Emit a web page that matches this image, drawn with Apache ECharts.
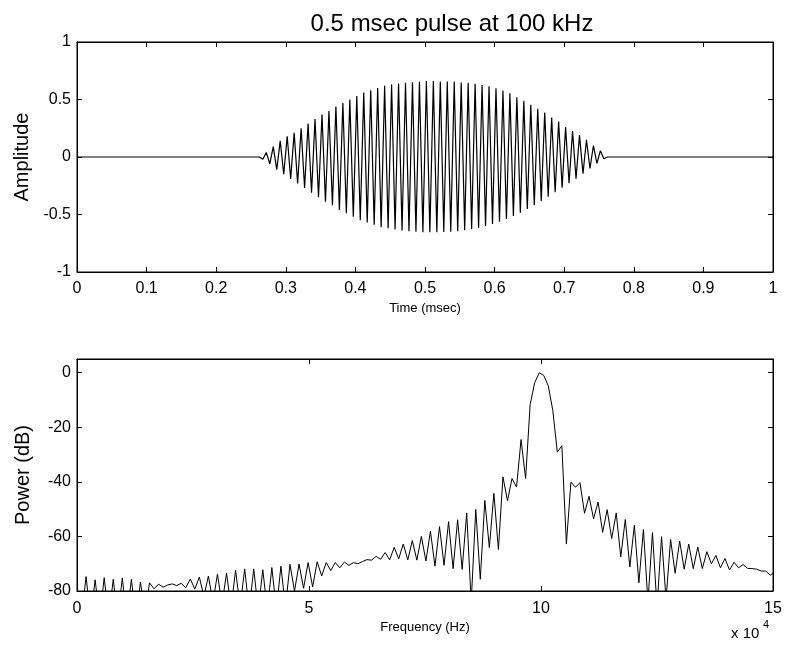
<!DOCTYPE html>
<html><head><meta charset="utf-8">
<script src="https://cdn.jsdelivr.net/npm/echarts/dist/echarts.min.js"></script>
<style>html,body{margin:0;padding:0;background:#fff}#c{width:785px;height:648px}</style>
</head><body><div id="c"></div>
<script>
// ---- top panel: sampled pulse (time in msec) ----
const timeRange = [0, 1];
const pulseStart = 0.262;   // msec, first sample of the burst
const pulseStep = 0.005;    // msec between successive peak / trough samples
const pulseAmp = [
  0,
  -0.02, 0.04, -0.06, 0.09, -0.11, 0.14, -0.15, 0.18, -0.19, 0.21,
  -0.23, 0.25, -0.27, 0.29, -0.31, 0.33, -0.35, 0.37, -0.39, 0.40,
  -0.42, 0.44, -0.46, 0.47, -0.49, 0.50, -0.52, 0.53, -0.55, 0.56,
  -0.57, 0.58, -0.59, 0.60, -0.61, 0.62, -0.62, 0.63, -0.63, 0.64,
  -0.64, 0.645, -0.645, 0.65, -0.65, 0.655, -0.655, 0.66, -0.655, 0.66,
  -0.655, 0.656, -0.653, 0.656, -0.65, 0.656, -0.645, 0.647, -0.637, 0.645,
  -0.627, 0.636, -0.615, 0.627, -0.60, 0.616, -0.583, 0.598, -0.563, 0.578,
  -0.54, 0.555, -0.513, 0.52, -0.484, 0.488, -0.452, 0.454, -0.418, 0.419,
  -0.382, 0.387, -0.345, 0.344, -0.307, 0.309, -0.268, 0.26, -0.228, 0.225,
  -0.188, 0.19, -0.145, 0.15, -0.10, 0.10, -0.055, 0.055, -0.015, 0
];
const ampTicks = [-1, -0.5, 0, 0.5, 1];

// ---- bottom panel: power spectrum (frequency in units of 10^4 Hz) ----
const specStep = 0.09765625;  // bin spacing, x10^4 Hz
const specDb = [
  -82, -90, -74.7, -90, -75.9, -90, -75.1, -90, -75.7, -90,
  -75.2, -90, -75.7, -90, -76.7, -88, -77.0, -79.2, -77.5, -78.6,
  -77.8, -77.4, -78.0, -77.2, -78.8, -75.6, -79.3, -74.9, -82, -74.5,
  -84, -73.8, -85, -73.4, -86, -72.4, -86, -71.9, -87, -71.9,
  -87, -72.2, -87, -71.4, -87, -70.9, -86, -70.2, -80, -70.1,
  -79, -69.6, -78.5, -69.3, -74.5, -69.6, -72.5, -69.6, -71.5, -69.4,
  -70.6, -69.6, -70.0, -69.2, -68.5, -68.7, -67.3, -68.4, -65.9, -68.6,
  -64.0, -68.2, -62.8, -68.6, -61.5, -68.7, -60.0, -69.0, -58.1, -70.9,
  -56.4, -70.6, -54.6, -71.8, -53.9, -72.1, -51.4, -84, -50.1, -75.7,
  -46.8, -64.1, -44.2, -64.8, -38.2, -46.9, -38.8, -41.9, -24.5, -38.8,
  -11.7, -3.7, -0.05, -1.0, -4.8, -13.8, -29.1, -26.8, -62.8, -40.1,
  -42.0, -40.3, -51.5, -45.3, -53.5, -47.4, -58.5, -50.2, -60.8, -51.4,
  -67.5, -53.8, -71.2, -55.9, -77, -57.5, -84, -58.6, -86, -60.1,
  -83, -61.1, -73.5, -61.7, -72, -62.8, -71.8, -63.9, -71.8, -65.6,
  -70, -67, -71.5, -68.1, -72.3, -69.5, -71.5, -70.3, -71.7, -71.8,
  -72, -72.7, -72.7, -74.2, -73
];
const freqRange = [0, 15];
const dbRange = [-80, 5];

// build series points from the read values
const pulseData = [[timeRange[0], 0]];
pulseAmp.forEach((v, n) => pulseData.push([+(pulseStart + n * pulseStep).toFixed(4), v]));
pulseData.push([timeRange[1], 0]);
const specData = specDb.map((v, i) => [i * specStep, v]);

const FONT = 'Liberation Sans, Arial, sans-serif';
const black = '#000';
function baseX(grid, min, max, interval, showLabels, pos) {
  return {
    type: 'value', gridIndex: grid, min, max, interval, position: pos,
    axisLine: { show: true, onZero: false, lineStyle: { color: black, width: 1 } },
    axisTick: { show: true, inside: true, length: 5, lineStyle: { color: black } },
    axisLabel: { show: showLabels, color: black, fontFamily: FONT, fontSize: 16, margin: 9 },
    splitLine: { show: false }
  };
}
function baseY(grid, min, max, interval, showLabels, pos, fmt) {
  return {
    type: 'value', gridIndex: grid, min, max, interval, position: pos,
    axisLine: { show: true, onZero: false, lineStyle: { color: black, width: 1 } },
    axisTick: { show: true, inside: true, length: 5, lineStyle: { color: black } },
    axisLabel: { show: showLabels, color: black, fontFamily: FONT, fontSize: 16, margin: 6, formatter: fmt },
    splitLine: { show: false }
  };
}

const xTop = baseX(0, timeRange[0], timeRange[1], 0.1, true, 'bottom');
xTop.name = 'Time (msec)'; xTop.nameLocation = 'middle'; xTop.nameGap = 30;
xTop.nameTextStyle = { color: black, fontFamily: FONT, fontSize: 13 };
const yTop = baseY(0, ampTicks[0], ampTicks[ampTicks.length - 1], 0.5, true, 'left');
yTop.name = 'Amplitude'; yTop.nameLocation = 'middle'; yTop.nameGap = 44;
yTop.nameTextStyle = { color: black, fontFamily: FONT, fontSize: 20 };

const xBot = baseX(1, freqRange[0], freqRange[1], 5, true, 'bottom');
xBot.axisLabel.margin = 10;
xBot.name = 'Frequency (Hz)'; xBot.nameLocation = 'middle'; xBot.nameGap = 30;
xBot.nameTextStyle = { color: black, fontFamily: FONT, fontSize: 13 };
const yBot = baseY(1, dbRange[0], dbRange[1], 20, true, 'left', v => (v > 0 ? '' : String(v)));
yBot.name = 'Power (dB)'; yBot.nameLocation = 'middle'; yBot.nameGap = 44;
yBot.nameTextStyle = { color: black, fontFamily: FONT, fontSize: 20 };

const option = {
  animation: false,
  backgroundColor: '#fff',
  title: {
    text: '0.5 msec pulse at 100 kHz', left: 447, top: 7, textAlign: 'center',
    textStyle: { color: black, fontFamily: FONT, fontSize: 24, fontWeight: 'normal' }
  },
  grid: [
    { left: 77, top: 42, width: 696, height: 230, show: true, borderColor: black, borderWidth: 1, containLabel: false },
    { left: 77, top: 359, width: 696, height: 232, show: true, borderColor: black, borderWidth: 1, containLabel: false }
  ],
  xAxis: [
    xTop,
    baseX(0, timeRange[0], timeRange[1], 0.1, false, 'top'),
    xBot,
    baseX(1, freqRange[0], freqRange[1], 5, false, 'top')
  ],
  yAxis: [
    yTop,
    baseY(0, ampTicks[0], ampTicks[ampTicks.length - 1], 0.5, false, 'right'),
    yBot,
    baseY(1, dbRange[0], dbRange[1], 20, false, 'right')
  ],
  graphic: [
    { type: 'text', left: 731, top: 626, style: { text: 'x 10', fill: black, font: '15px ' + FONT } },
    { type: 'text', left: 763, top: 619, style: { text: '4', fill: black, font: '11px ' + FONT } }
  ],
  series: [
    { type: 'line', xAxisIndex: 0, yAxisIndex: 0, data: pulseData, showSymbol: false, symbol: 'none',
      lineStyle: { color: black, width: 1.2 }, clip: true },
    { type: 'line', xAxisIndex: 2, yAxisIndex: 2, data: specData, showSymbol: false, symbol: 'none',
      lineStyle: { color: black, width: 1 }, clip: true }
  ]
};
const chart = echarts.init(document.getElementById('c'), null, { renderer: 'canvas' });
chart.setOption(option);
</script>
</body></html>
